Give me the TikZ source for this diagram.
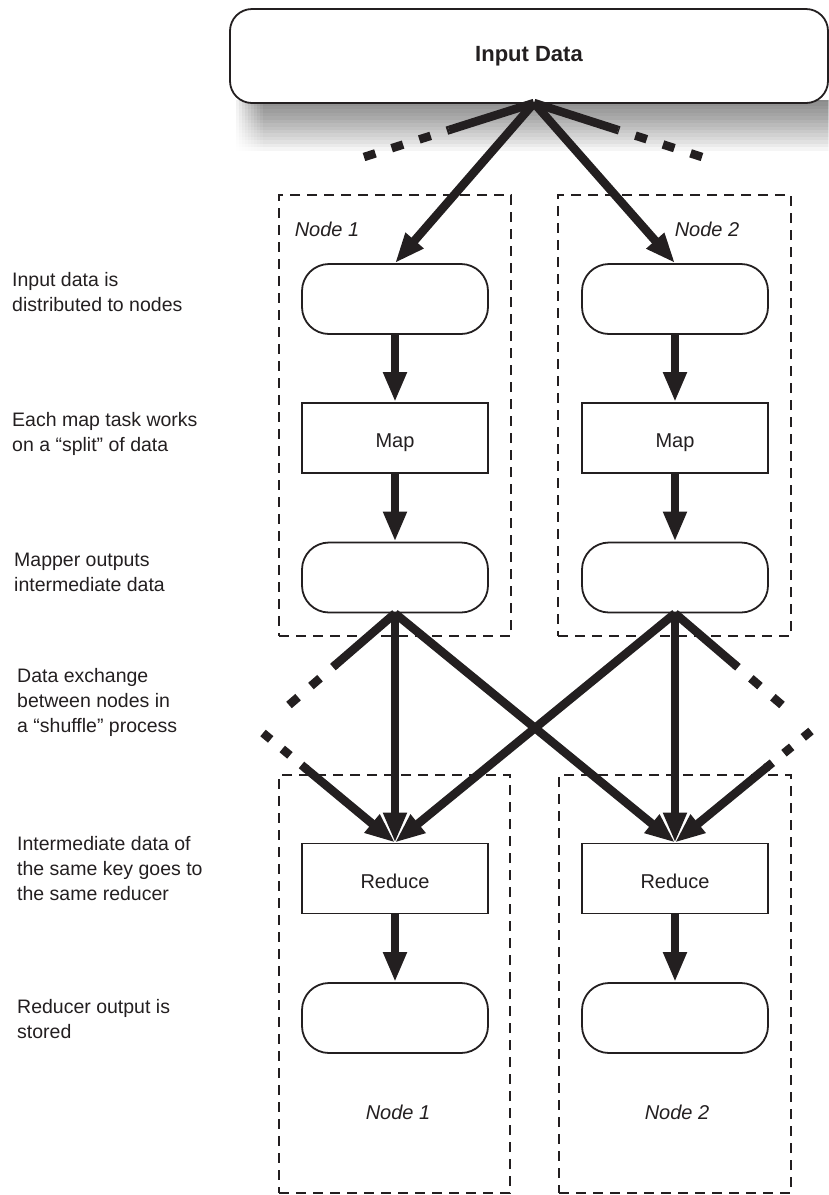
\documentclass[tikz,border=0pt]{standalone}
\usepackage{fontspec}
\setmainfont{Liberation Sans}
\usetikzlibrary{arrows.meta,fadings,calc}

\definecolor{ink}{HTML}{231F20}

\begin{document}
\begin{tikzpicture}[x=1pt,y=-1pt,
  every node/.style={text=ink},
  inbox/.style={draw=ink, line width=1.8pt, fill=white, rounded corners=22pt,
    minimum width=598pt, minimum height=94pt, inner sep=0pt,
    font=\fontsize{22}{26}\selectfont\bfseries},
  pill/.style={draw=ink, line width=1.8pt, fill=white, rounded corners=27pt,
    minimum width=186pt, minimum height=70pt, inner sep=0pt},
  task/.style={draw=ink, line width=1.8pt, fill=white,
    minimum width=186pt, minimum height=70pt, inner sep=0pt,
    text height=19pt, text depth=0pt,
    font=\fontsize{20}{24}\selectfont},
  host/.style={draw=ink, line width=2.5pt, dash pattern=on 10pt off 7pt,
    inner sep=0pt},
  hostlabel/.style={font=\fontsize{20}{24}\selectfont\itshape, inner sep=0pt},
  flow/.style={draw=ink, line width=8.5pt, -{Triangle[length=30pt,width=22pt]}},
  feed/.style={draw=ink, line width=8.5pt},
  feeddash/.style={draw=ink, line width=8.5pt, dash pattern=on 12pt off 17pt},
  note/.style={anchor=north west, align=left, inner sep=0pt,
    font=\fontsize{19.5}{25}\selectfont}
]
\useasboundingbox (0,0) rectangle (829,1195);

% machine frames
\node[host, minimum width=232pt, minimum height=441pt] (hostA) at (395,415.5) {};
\node[host, minimum width=233pt, minimum height=441pt] (hostB) at (674.5,415.5) {};
\node[host, minimum width=231pt, minimum height=418pt] (hostC) at (394.5,984) {};
\node[host, minimum width=232pt, minimum height=418pt] (hostD) at (675,984) {};

\node[hostlabel] (lblA) at (327,229) {Node 1};
\node[hostlabel] (lblB) at (707,229) {Node 2};
\node[hostlabel] (lblC) at (398,1112) {Node 1};
\node[hostlabel] (lblD) at (677,1112) {Node 2};

% soft drop shadow under the input box, fading downwards and at its left end
\foreach \i in {0,...,9}
  \fill[black, path fading=south, fill opacity=0.06]
    (236+3*\i,100) rectangle (829,152);

% input source
\node[inbox] (input) at (529,56) {Input Data};
\coordinate (apex) at (534,103);

% per-node stages
\node[pill] (in1)  at (395,299) {};
\node[pill] (in2)  at (675,299) {};
\node[task] (map1) at (395,438) {Map};
\node[task] (map2) at (675,438) {Map};
\node[pill] (out1) at (395,577.5) {};
\node[pill] (out2) at (675,577.5) {};
\node[task] (red1) at (395,878.5) {Reduce};
\node[task] (red2) at (675,878.5) {Reduce};
\node[pill] (res1) at (395,1018) {};
\node[pill] (res2) at (675,1018) {};

% splits going to other machines
\coordinate (farL) at (364,157);
\coordinate (farR) at (702,157);
\draw[feed] (apex) -- ($(apex)!0.5!(farL)$);
\draw[feeddash] (farL) -- ($(farL)!0.5!(apex)$);
\draw[feed] (apex) -- ($(apex)!0.5!(farR)$);
\draw[feeddash] (farR) -- ($(farR)!0.5!(apex)$);

% distribution of input
\draw[flow] (apex) -- (in1.north);
\draw[flow] (apex) -- (in2.north);

% map pipeline
\draw[flow] (in1.south) -- (map1.north);
\draw[flow] (in2.south) -- (map2.north);
\draw[flow] (map1.south) -- (out1.north);
\draw[flow] (map2.south) -- (out2.north);

% shuffle to and from other machines
\coordinate (outL) at (289,705);
\coordinate (outR) at (782,705);
\coordinate (inL) at (263,733);
\coordinate (inR) at (811,731);
\draw[feed] (out1.south) -- ($(out1.south)!0.57!(outL)$);
\draw[feeddash] (outL) -- ($(outL)!0.44!(out1.south)$);
\draw[feed] (out2.south) -- ($(out2.south)!0.57!(outR)$);
\draw[feeddash] (outR) -- ($(outR)!0.44!(out2.south)$);
\draw[feeddash, dash pattern=on 10pt off 15pt] (inL) -- ($(inL)!0.33!(red1.north)$);
\draw[flow] ($(inL)!0.32!(red1.north)$) -- (red1.north);
\draw[feeddash, dash pattern=on 10pt off 15pt] (inR) -- ($(inR)!0.33!(red2.north)$);
\draw[flow] ($(inR)!0.32!(red2.north)$) -- (red2.north);

% shuffle within the cluster
\draw[flow] (out1.south) -- (red1.north);
\draw[flow] (out2.south) -- (red2.north);
\draw[flow] (out1.south) -- (red2.north);
\draw[flow] (out2.south) -- (red1.north);

% reduce output
\draw[flow] (red1.south) -- (res1.north);
\draw[flow] (red2.south) -- (res2.north);

% stage descriptions
\node[note] (n1) at (12,272) {Input data is\\distributed to nodes};
\node[note] (n2) at (12,412) {Each map task works\\on a “split” of data};
\node[note] (n3) at (14,553) {Mapper outputs\\intermediate data};
\node[note] (n4) at (17,668) {Data exchange\\between nodes in\\a “shuffle” process};
\node[note] (n5) at (17,836) {Intermediate data of\\the same key goes to\\the same reducer};
\node[note] (n6) at (17,999) {Reducer output is\\stored};
\end{tikzpicture}
\end{document}
